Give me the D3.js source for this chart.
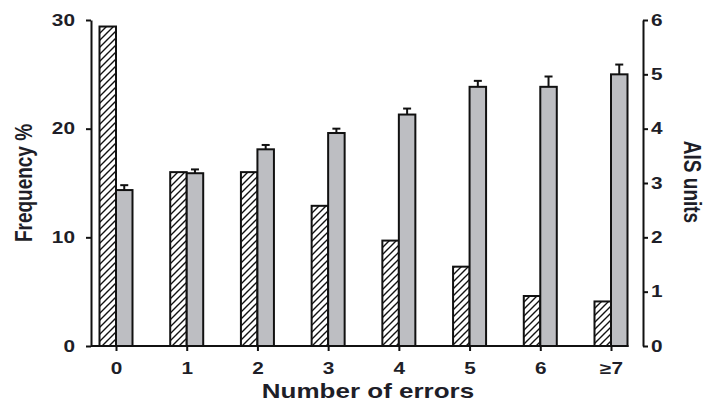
<!DOCTYPE html>
<html>
<head>
<meta charset="utf-8">
<script src="https://cdn.jsdelivr.net/npm/d3@7"></script>
<style>
  html, body { margin: 0; padding: 0; background: #fff; }
  svg { display: block; }
  text { font-family: "Liberation Sans", Arial, sans-serif; font-weight: bold; fill: #1e1e28; }
</style>
</head>
<body>
<svg id="chart" width="706" height="403"></svg>
<script>
// Error-count categories
const categories = ["0", "1", "2", "3", "4", "5", "6", "≥7"];
// Frequency (%) of each error count — hatched bars, left axis
const frequency = [29.4, 16.0, 16.0, 12.9, 9.7, 7.3, 4.6, 4.1];
// Mean AIS units — grey bars, right axis
const aisMean = [2.87, 3.18, 3.62, 3.92, 4.26, 4.77, 4.77, 5.0];
// Upper error (SEM) of AIS units
const aisErr = [0.09, 0.07, 0.08, 0.08, 0.11, 0.11, 0.19, 0.18];
// Tick values
const freqTicks = [0, 10, 20, 30];
const aisTicks = [0, 1, 2, 3, 4, 5, 6];

const svg = d3.select("#chart");
const SX = 1.3;            // horizontal widening of the type
const barW = 16.5;
const leftX = 91, rightX = 643, plotTop = 20, plotBottom = 346;

const x = d3.scalePoint().domain(categories).range([116, 611]);
const yL = d3.scaleLinear().domain([0, 30]).range([plotBottom, plotTop]);
const yR = d3.scaleLinear().domain([0, 6]).range([plotBottom, plotTop]);

// Diagonal hatch
const defs = svg.append("defs");
const pat = defs.append("pattern")
  .attr("id", "hatch")
  .attr("patternUnits", "userSpaceOnUse")
  .attr("width", 7).attr("height", 7);
pat.append("rect").attr("width", 7).attr("height", 7).attr("fill", "#fff");
pat.append("path")
  .attr("d", "M-1,1 l2,-2 M0,7 l7,-7 M6,8 l2,-2")
  .attr("stroke", "#111").attr("stroke-width", 1.4);

// Frequency bars
svg.append("g").selectAll("rect")
  .data(categories)
  .join("rect")
  .attr("x", c => x(c) - barW)
  .attr("y", (c, i) => yL(frequency[i]))
  .attr("width", barW)
  .attr("height", (c, i) => plotBottom - yL(frequency[i]))
  .attr("fill", "url(#hatch)")
  .attr("stroke", "#111").attr("stroke-width", 2);

// AIS bars
svg.append("g").selectAll("rect")
  .data(categories)
  .join("rect")
  .attr("x", c => x(c))
  .attr("y", (c, i) => yR(aisMean[i]))
  .attr("width", barW)
  .attr("height", (c, i) => plotBottom - yR(aisMean[i]))
  .attr("fill", "#bdbec2")
  .attr("stroke", "#111").attr("stroke-width", 2);

// Error bars (upper only)
const eb = svg.append("g").attr("stroke", "#111").attr("stroke-width", 2);
categories.forEach((c, i) => {
  const cx = x(c) + barW / 2;
  const y0 = yR(aisMean[i]), y1 = yR(aisMean[i] + aisErr[i]);
  eb.append("line").attr("x1", cx).attr("x2", cx).attr("y1", y0).attr("y2", y1);
  eb.append("line").attr("x1", cx - 4).attr("x2", cx + 4).attr("y1", y1).attr("y2", y1);
});

// Widen tick labels produced by an axis
function styleTicks(g, dx) {
  g.selectAll(".tick text")
    .attr("transform", `scale(${SX},1)`)
    .attr("x", dx / SX)
    .attr("font-size", 16)
    .attr("font-family", "Liberation Sans, Arial, sans-serif")
    .attr("font-weight", "bold")
    .attr("fill", "#1e1e28");
}

// Left axis
const gL = svg.append("g").attr("transform", `translate(${leftX},0)`)
  .call(d3.axisLeft(yL).tickValues(freqTicks).tickFormat(d3.format("d"))
    .tickSize(5).tickSizeOuter(0));
gL.selectAll("path, line").attr("stroke", "#111").attr("stroke-width", 2);
styleTicks(gL, -16);

// Right axis
const gR = svg.append("g").attr("transform", `translate(${rightX},0)`)
  .call(d3.axisRight(yR).tickValues(aisTicks).tickFormat(d3.format("d"))
    .tickSize(5).tickSizeOuter(0));
gR.selectAll("path, line").attr("stroke", "#111").attr("stroke-width", 2);
styleTicks(gR, 8);

// Bottom axis
const gB = svg.append("g").attr("transform", `translate(0,${plotBottom})`)
  .call(d3.axisBottom(x).tickSize(5).tickPadding(12).tickSizeOuter(0));
gB.select(".domain").remove();
gB.selectAll("line").attr("stroke", "#111").attr("stroke-width", 2);
styleTicks(gB, 0);

svg.append("line")
  .attr("x1", leftX).attr("x2", x(categories[categories.length - 1]) + barW + 1)
  .attr("y1", plotBottom).attr("y2", plotBottom)
  .attr("stroke", "#111").attr("stroke-width", 2);

// Axis titles
svg.append("g").attr("transform", `translate(368,398) scale(${SX},1)`)
  .append("text").attr("text-anchor", "middle").attr("font-size", 20)
  .text("Number of errors");

svg.append("g").attr("transform", `translate(32,183) scale(${SX},1) rotate(-90)`)
  .append("text").attr("text-anchor", "middle").attr("font-size", 19)
  .text("Frequency %");

svg.append("g").attr("transform", `translate(684,182) scale(${SX},1) rotate(90)`)
  .append("text").attr("text-anchor", "middle").attr("font-size", 19)
  .text("AIS units");
</script>
</body>
</html>
